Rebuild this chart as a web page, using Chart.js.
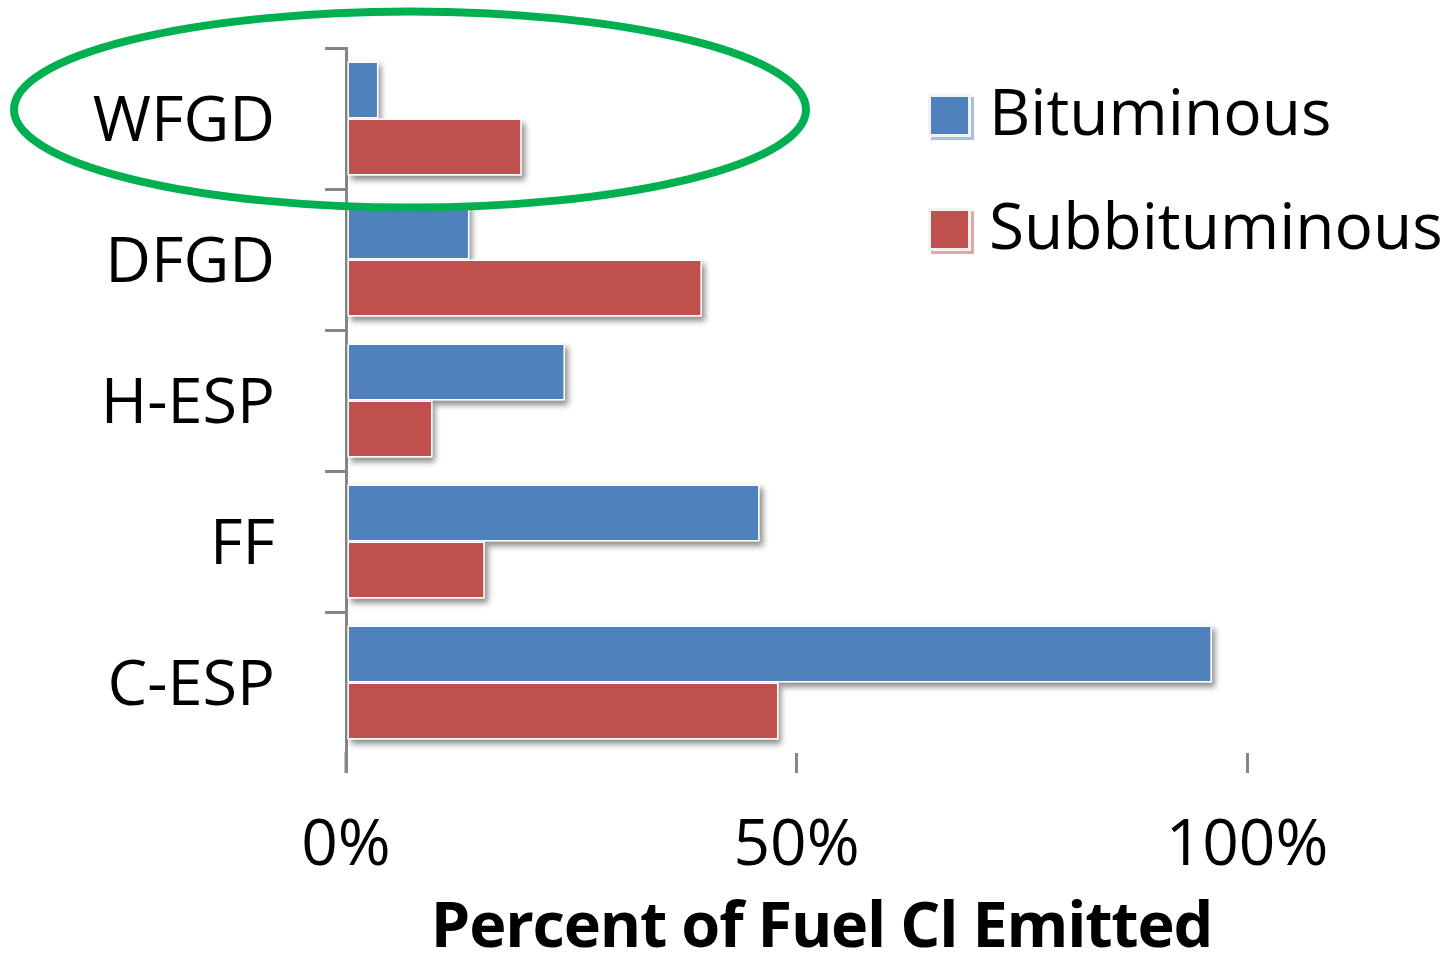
<!DOCTYPE html>
<html>
<head>
<meta charset="utf-8">
<title>Percent of Fuel Cl Emitted</title>
<script src="https://cdn.jsdelivr.net/npm/chart.js@4.4.1/dist/chart.umd.min.js"></script>
<style>
    html, body { margin: 0; padding: 0; background: #ffffff; }
    #wrap { width: 1453px; height: 953px; }
</style>
</head>
<body>
<div id="wrap"><canvas id="clChart" width="1453" height="953"></canvas></div>
<script>
    // data (percent of fuel Cl emitted)
    const categories = ['WFGD', 'DFGD', 'H-ESP', 'FF', 'C-ESP'];
    const bituminous = [3.6, 13.7, 24.3, 45.9, 96.1];
    const subbituminous = [19.5, 39.5, 9.6, 15.4, 48.0];
    const seriesNames = ['Bituminous', 'Subbituminous'];
    const xTickValues = [0, 50, 100];
    const axisTitle = 'Percent of Fuel Cl Emitted';

    const BLUE = '#4f81bd';
    const RED = '#c0504d';
    const AXIS_GREY = '#868686';
    const FONT = '"Open Sans", "Noto Sans", sans-serif';

    // soft drop shadow behind every bar, like the office chart style
    const barShadow = {
        id: 'barShadow',
        beforeDatasetsDraw: function (chart) {
            const ctx = chart.ctx;
            ctx.save();
            ctx.shadowColor = 'rgba(0, 0, 0, 0.45)';
            ctx.shadowBlur = 6;
            ctx.shadowOffsetX = 3;
            ctx.shadowOffsetY = 4;
            ctx.fillStyle = '#ffffff';
            chart.data.datasets.forEach(function (ds, i) {
                chart.getDatasetMeta(i).data.forEach(function (bar) {
                    const p = bar.getProps(['x', 'y', 'base', 'height'], true);
                    ctx.fillRect(p.base, p.y - p.height / 2, p.x - p.base, p.height);
                });
            });
            ctx.restore();
        }
    };

    // y axis line runs on past the plot area, down to the end of the x ticks
    const axisExtension = {
        id: 'axisExtension',
        afterDraw: function (chart) {
            const ctx = chart.ctx;
            const xScale = chart.scales.x;
            const yScale = chart.scales.y;
            const tl = xScale.options.grid.tickLength;
            ctx.save();
            ctx.strokeStyle = AXIS_GREY;
            ctx.lineWidth = 3;
            ctx.beginPath();
            ctx.moveTo(yScale.right, chart.chartArea.bottom - 1);
            ctx.lineTo(yScale.right, chart.chartArea.bottom + tl);
            ctx.stroke();
            ctx.restore();
        }
    };

    // x axis title, a little right of centre and tightly set as in the original
    const bottomTitle = {
        id: 'bottomTitle',
        afterDraw: function (chart) {
            const ctx = chart.ctx;
            const area = chart.chartArea;
            ctx.save();
            ctx.fillStyle = '#000000';
            ctx.font = 'bold 63px ' + FONT;
            if ('letterSpacing' in ctx) {
                ctx.letterSpacing = '-1.2px';
            }
            ctx.textAlign = 'center';
            ctx.textBaseline = 'alphabetic';
            ctx.fillText(axisTitle, (area.left + area.right) / 2 + 25, area.bottom + 194);
            ctx.restore();
        }
    };

    // legend at the top right
    const sideLegend = {
        id: 'sideLegend',
        afterDraw: function (chart) {
            const ctx = chart.ctx;
            const left = 928;
            const rows = [94, 208];
            const tints = ['#a9bfdc', '#dfa9a7'];
            ctx.save();
            chart.data.datasets.forEach(function (ds, i) {
                const top = rows[i];
                ctx.fillStyle = tints[i];
                ctx.fillRect(left + 3, top + 3, 43, 43);
                ctx.fillStyle = '#f2f2f2';
                ctx.fillRect(left, top, 43, 43);
                ctx.fillStyle = ds.backgroundColor;
                ctx.fillRect(left + 3, top + 3, 37, 37);
                ctx.fillStyle = '#000000';
                ctx.font = '64px ' + FONT;
                ctx.textAlign = 'left';
                ctx.textBaseline = 'alphabetic';
                ctx.fillText(ds.label, left + 61, top + 41);
            });
            ctx.restore();
        }
    };

    // green ring drawn round the WFGD row
    const highlightRing = {
        id: 'highlightRing',
        afterDraw: function (chart) {
            const ctx = chart.ctx;
            const yScale = chart.scales.y;
            const cy = yScale.getPixelForValue(0) - 9;
            ctx.save();
            ctx.strokeStyle = '#00b050';
            ctx.lineWidth = 8;
            ctx.beginPath();
            ctx.ellipse(410, cy, 396, 98, 0, 0, Math.PI * 2);
            ctx.stroke();
            ctx.restore();
        }
    };

    const ctx = document.getElementById('clChart').getContext('2d');
    new Chart(ctx, {
        type: 'bar',
        data: {
            labels: categories,
            datasets: [
                {
                    label: seriesNames[0],
                    data: bituminous,
                    backgroundColor: BLUE,
                    borderColor: '#ffffff',
                    borderWidth: 1.5,
                    borderSkipped: false
                },
                {
                    label: seriesNames[1],
                    data: subbituminous,
                    backgroundColor: RED,
                    borderColor: '#ffffff',
                    borderWidth: 1.5,
                    borderSkipped: false
                }
            ]
        },
        options: {
            indexAxis: 'y',
            responsive: false,
            animation: false,
            categoryPercentage: 0.81,
            barPercentage: 1,
            layout: {
                padding: { top: 48, right: 206, bottom: 0, left: 0 }
            },
            plugins: {
                legend: { display: false },
                tooltip: { enabled: false }
            },
            scales: {
                y: {
                    z: 1,
                    afterFit: function (scale) {
                        scale.width = 346;
                        scale.paddingTop = 0;
                        scale.paddingBottom = 0;
                    },
                    border: { display: true, color: AXIS_GREY, width: 3 },
                    grid: {
                        drawOnChartArea: false,
                        tickLength: 21,
                        lineWidth: 3,
                        color: function (c) {
                            return c.type === 'tick' ? AXIS_GREY : 'rgba(0,0,0,0)';
                        }
                    },
                    ticks: {
                        color: '#000000',
                        padding: 50,
                        labelOffset: 5,
                        font: { family: FONT, size: 63, lineHeight: 1 }
                    }
                },
                x: {
                    min: 0,
                    max: 100,
                    afterFit: function (scale) { scale.height = 200; },
                    afterBuildTicks: function (scale) {
                        scale.ticks = xTickValues.map(function (v) { return { value: v }; });
                    },
                    border: { display: false },
                    grid: {
                        drawOnChartArea: false,
                        tickLength: 20,
                        lineWidth: 3,
                        color: AXIS_GREY
                    },
                    ticks: {
                        color: '#000000',
                        padding: 42,
                        maxRotation: 0,
                        autoSkip: false,
                        font: { family: FONT, size: 64, lineHeight: 1 },
                        callback: function (v) { return v + '%'; }
                    },
                    title: { display: false }
                }
            }
        },
        plugins: [barShadow, axisExtension, bottomTitle, sideLegend, highlightRing]
    });
</script>
</body>
</html>
